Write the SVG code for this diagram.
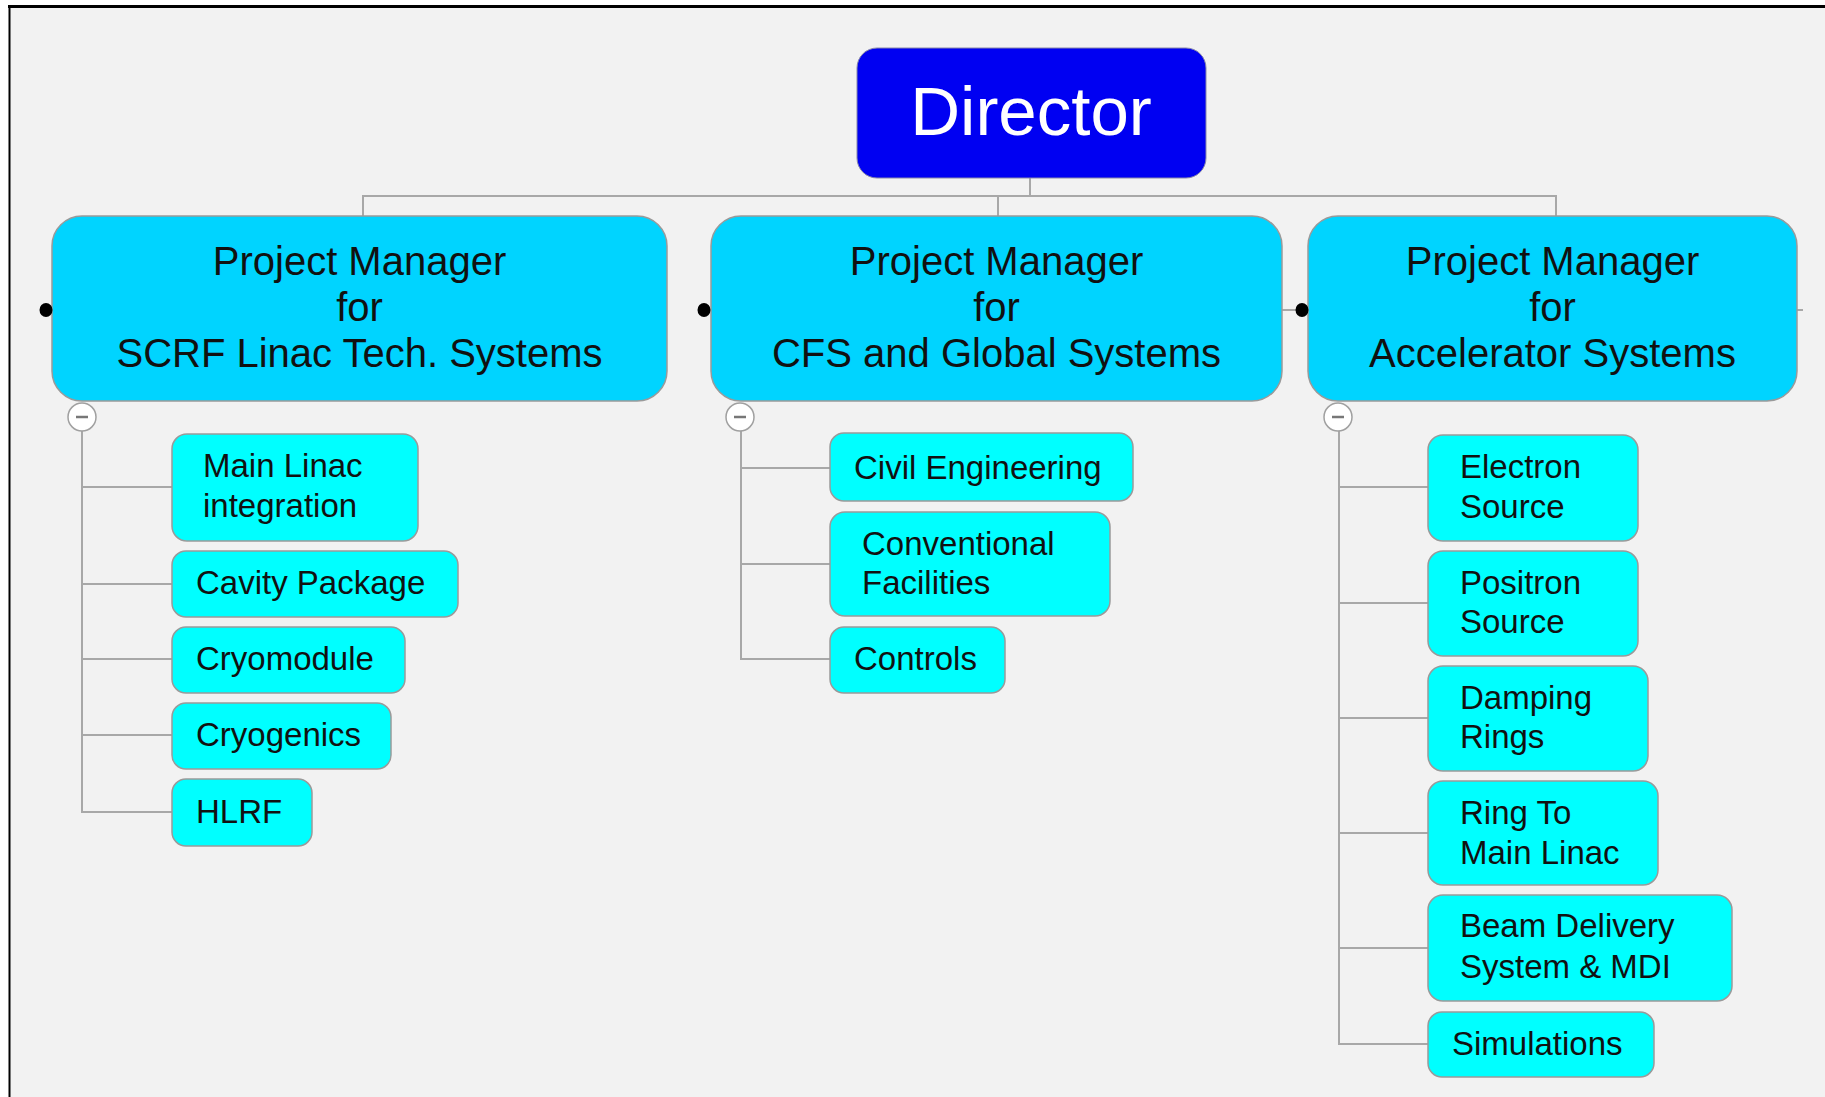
<svg xmlns="http://www.w3.org/2000/svg" width="1825" height="1097" viewBox="0 0 1825 1097">
<style>
.bg{fill:#f2f2f2}
.con{fill:none;stroke:#a8a8a8;stroke-width:2}
.pm{fill:#00d4ff;stroke:#9a9a9a;stroke-width:1.5}
.ch{fill:#00ffff;stroke:#9a9a9a;stroke-width:1.5}
.pmt{font-family:"Liberation Sans",Arial,sans-serif;font-size:40px;fill:#111;text-anchor:middle}
.cht{font-family:"Liberation Sans",Arial,sans-serif;font-size:33px;fill:#111}
.dot{fill:#000}
.col{fill:#fff;stroke:#a0a0a0;stroke-width:1.5}
.minus{stroke:#777;stroke-width:2.5}
</style>
<rect x="0" y="0" width="1825" height="1097" fill="#ffffff"/>
<rect class="bg" x="9" y="6" width="1816" height="1091"/>
<line x1="8" y1="6.5" x2="1825" y2="6.5" stroke="#000" stroke-width="3"/>
<line x1="9.5" y1="5" x2="9.5" y2="1097" stroke="#000" stroke-width="2"/>

<g id="connectors">
<path class="con" d="M1030 178 V196"/>
<path class="con" d="M363 216 V196 H1556 V216"/>
<path class="con" d="M998 196 V216"/>
<path class="con" d="M82 431 V812 H172"/>
<path class="con" d="M82 487 H172 M82 584 H172 M82 659 H172 M82 735 H172"/>
<path class="con" d="M741 431 V659 H830"/>
<path class="con" d="M741 468 H830 M741 564 H830"/>
<path class="con" d="M1339 431 V1044 H1428"/>
<path class="con" d="M1339 487 H1428 M1339 603 H1428 M1339 718 H1428 M1339 833 H1428 M1339 948 H1428"/>
<path class="con" d="M1282 310 H1296 M1797 310 H1803"/>
</g>

<g id="director">
<rect x="857" y="48" width="349" height="130" rx="20" fill="#0000f2" stroke="#8888aa" stroke-width="1"/>
<text x="1031" y="135" font-family="Liberation Sans,Arial,sans-serif" font-size="69" fill="#ffffff" text-anchor="middle">Director</text>
</g>

<g id="pm-scrf">
<rect class="pm" x="52" y="216" width="615" height="185" rx="30"/>
<text class="pmt" x="359.5" y="275">Project Manager</text>
<text class="pmt" x="359.5" y="321">for</text>
<text class="pmt" x="359.5" y="367">SCRF Linac Tech. Systems</text>
<ellipse class="dot" cx="46" cy="310" rx="6.5" ry="7"/>
<circle class="col" cx="82" cy="417" r="14"/>
<line class="minus" x1="76" y1="417" x2="88" y2="417"/>
</g>

<g id="pm-cfs">
<rect class="pm" x="711" y="216" width="571" height="185" rx="30"/>
<text class="pmt" x="996.5" y="275">Project Manager</text>
<text class="pmt" x="996.5" y="321">for</text>
<text class="pmt" x="996.5" y="367">CFS and Global Systems</text>
<ellipse class="dot" cx="704" cy="310" rx="6.5" ry="7"/>
<circle class="col" cx="740" cy="417" r="14"/>
<line class="minus" x1="734" y1="417" x2="746" y2="417"/>
</g>

<g id="pm-acc">
<rect class="pm" x="1308" y="216" width="489" height="185" rx="30"/>
<text class="pmt" x="1552.5" y="275">Project Manager</text>
<text class="pmt" x="1552.5" y="321">for</text>
<text class="pmt" x="1552.5" y="367">Accelerator Systems</text>
<ellipse class="dot" cx="1302" cy="310" rx="6.5" ry="7"/>
<circle class="col" cx="1338" cy="417" r="14"/>
<line class="minus" x1="1332" y1="417" x2="1344" y2="417"/>
</g>

<g id="main-linac">
<rect class="ch" x="172" y="434" width="246" height="107" rx="15"/>
<text class="cht" x="203" y="477">Main Linac</text>
<text class="cht" x="203" y="517">integration</text>
</g>
<g id="cavity-package">
<rect class="ch" x="172" y="551" width="286" height="66" rx="14"/>
<text class="cht" x="196" y="594">Cavity Package</text>
</g>
<g id="cryomodule">
<rect class="ch" x="172" y="627" width="233" height="66" rx="14"/>
<text class="cht" x="196" y="670">Cryomodule</text>
</g>
<g id="cryogenics">
<rect class="ch" x="172" y="703" width="219" height="66" rx="14"/>
<text class="cht" x="196" y="746">Cryogenics</text>
</g>
<g id="hlrf">
<rect class="ch" x="172" y="779" width="140" height="67" rx="14"/>
<text class="cht" x="196" y="823">HLRF</text>
</g>

<g id="civil-engineering">
<rect class="ch" x="830" y="433" width="303" height="68" rx="14"/>
<text class="cht" x="854" y="479">Civil Engineering</text>
</g>
<g id="conventional-facilities">
<rect class="ch" x="830" y="512" width="280" height="104" rx="15"/>
<text class="cht" x="862" y="555">Conventional</text>
<text class="cht" x="862" y="594">Facilities</text>
</g>
<g id="controls">
<rect class="ch" x="830" y="627" width="175" height="66" rx="14"/>
<text class="cht" x="854" y="670">Controls</text>
</g>

<g id="electron-source">
<rect class="ch" x="1428" y="435" width="210" height="106" rx="15"/>
<text class="cht" x="1460" y="478">Electron</text>
<text class="cht" x="1460" y="518">Source</text>
</g>
<g id="positron-source">
<rect class="ch" x="1428" y="551" width="210" height="105" rx="15"/>
<text class="cht" x="1460" y="594">Positron</text>
<text class="cht" x="1460" y="633">Source</text>
</g>
<g id="damping-rings">
<rect class="ch" x="1428" y="666" width="220" height="105" rx="15"/>
<text class="cht" x="1460" y="709">Damping</text>
<text class="cht" x="1460" y="748">Rings</text>
</g>
<g id="ring-to-main-linac">
<rect class="ch" x="1428" y="781" width="230" height="104" rx="15"/>
<text class="cht" x="1460" y="824">Ring To</text>
<text class="cht" x="1460" y="864">Main Linac</text>
</g>
<g id="beam-delivery">
<rect class="ch" x="1428" y="895" width="304" height="106" rx="15"/>
<text class="cht" x="1460" y="937">Beam Delivery</text>
<text class="cht" x="1460" y="978">System &amp; MDI</text>
</g>
<g id="simulations">
<rect class="ch" x="1428" y="1012" width="226" height="65" rx="14"/>
<text class="cht" x="1452" y="1055">Simulations</text>
</g>
</svg>
